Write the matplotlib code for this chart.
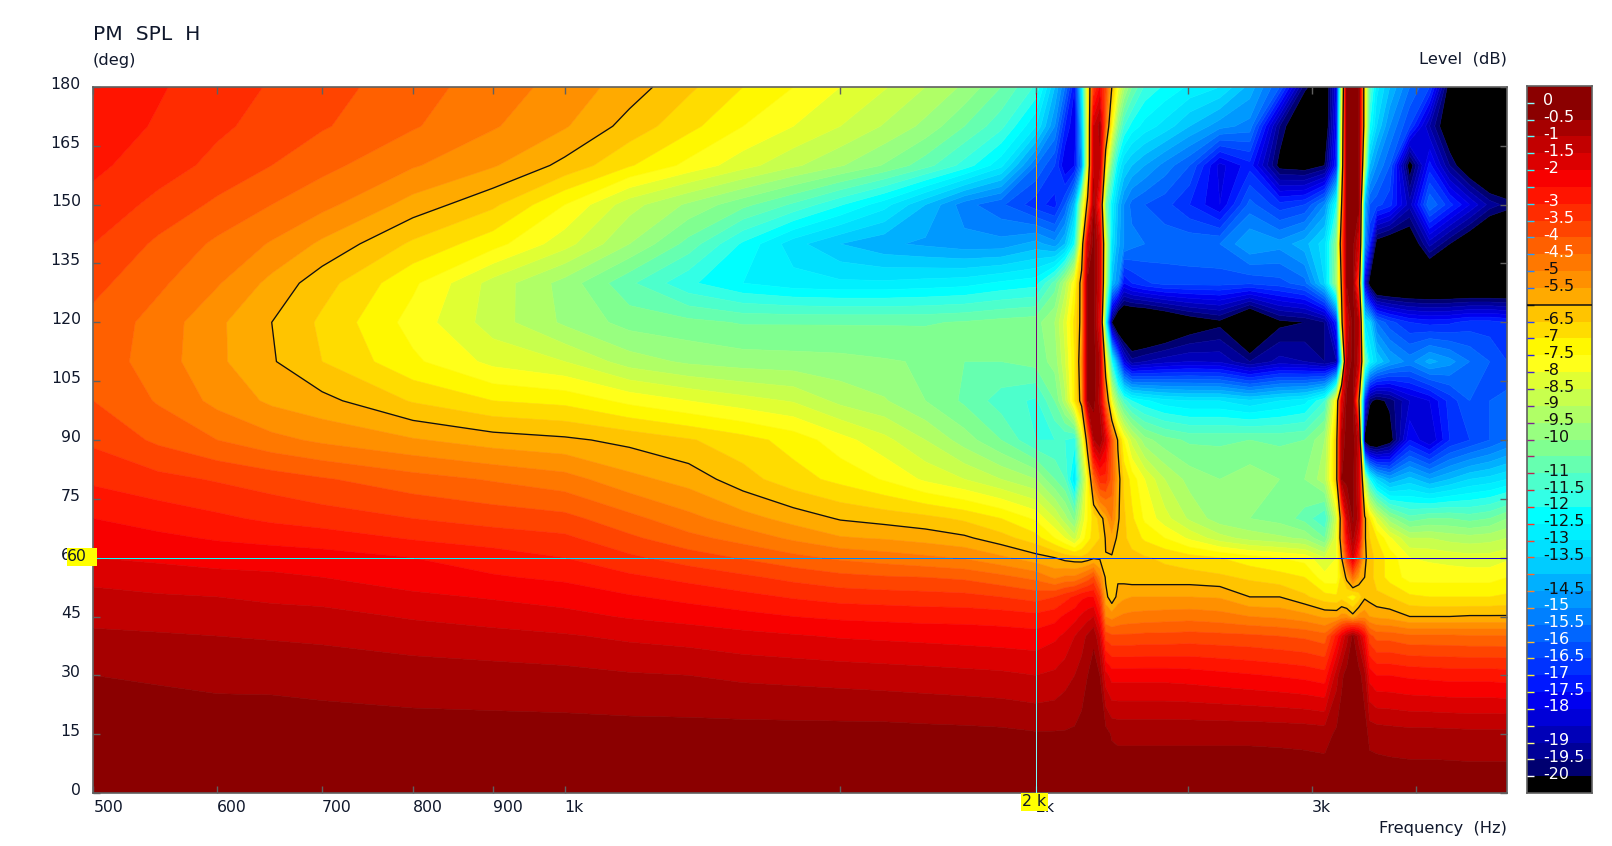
import numpy as np
import matplotlib
matplotlib.use("Agg")
import matplotlib.pyplot as plt
from matplotlib.collections import LineCollection
from matplotlib.colors import to_rgb
from matplotlib.patches import Rectangle
from matplotlib.ticker import NullLocator
from matplotlib.transforms import ScaledTranslation

FREQ_HZ = [500, 550, 600, 650, 700, 800, 900, 1000, 1100, 1200, 1300, 1400, 1500, 1600, 1700, 1800, 1900, 2000,
           2056, 2087, 2117, 2139, 2158, 2177, 2197, 2216, 2236, 2256, 2276, 2303, 2347, 2417, 2507, 2621, 2739, 2862,
           2969, 3058, 3112, 3135, 3159, 3187, 3215, 3243, 3267, 3301, 3365, 3465, 3568, 3675, 3785, 3898, 4000]
ANGLE_DEG = [0, 15, 30, 40, 45, 50, 55, 60, 65, 70, 80, 90, 100, 110, 120, 130, 140, 150, 160, 170, 180]

A000 = [-.1] * 53
A015 = [-.25, -.25, -.28, -.3, -.3, -.3, -.3, -.3, -.3, -.3, -.3, -.3, -.3, -.3, -.33, -.35, -.38, -.45,
        -.45, -.45, -.42, -.3, -.25, -.2, -.2, -.3, -.55, -.6, -.6, -.6, -.6, -.6, -.6, -.6, -.6, -.62, -.65, -.7, -.4, -.25, -.2, -.2, -.2, -.25, -.65, -.7, -.75, -.8, -.8, -.82, -.85, -.85, -.85]
A030 = [-.5, -.55, -.6, -.6, -.65, -.75, -.8, -.85, -.95, -1, -1.1, -1.15, -1.2, -1.25, -1.3, -1.35, -1.4, -1.5,
        -1.4, -1.2, -1, -.8, -.5, -.3, -.5, -1.8, -2.2, -2.2, -2.2, -2.2, -2.2, -2.2, -2.25, -2.35, -2.45, -2.55, -2.65, -2.8, -1.2, -.6, -.3, -.2, -.3, -.8, -2.2, -2.5, -2.5, -2.6, -2.65, -2.7, -2.7, -2.7, -2.75]
A040 = [-.9, -.95, -1, -1.05, -1.1, -1.25, -1.35, -1.45, -1.6, -1.7, -1.85, -1.95, -2.05, -2.1, -2.15, -2.2, -2.25, -2.3,
        -2.1, -1.9, -1.5, -1.2, -.9, -.6, -1.5, -3.7, -3.9, -3.9, -3.9, -3.9, -3.85, -3.85, -3.8, -3.85, -3.9, -4, -4.1, -4.3, -2.8, -2, -1.2, -.4, -1.2, -2.4, -3.8, -4.2, -4.2, -4.4, -4.4, -4.4, -4.45, -4.45, -4.45]
A045 = [-1.15, -1.2, -1.25, -1.3, -1.35, -1.55, -1.7, -1.85, -2.05, -2.2, -2.35, -2.5, -2.6, -2.65, -2.7, -2.7, -2.75, -2.85,
        -2.7, -2.4, -2.2, -1.9, -1.7, -1.5, -2.5, -5, -5.2, -5, -4.9, -4.85, -4.8, -4.75, -4.7, -4.8, -5, -5.1, -5.3, -5.6, -5.6, -5.3, -5.3, -5.8, -5.3, -5.2, -5.5, -5.6, -5.7, -6, -6, -6, -5.95, -5.95, -5.95]
A050 = [-1.35, -1.45, -1.5, -1.6, -1.65, -1.9, -2.05, -2.2, -2.45, -2.65, -2.85, -3.05, -3.2, -3.25, -3.3, -3.35, -3.5, -3.7,
        -3.5, -3.2, -2.9, -2.6, -2.5, -2.5, -3.5, -5.8, -6.4, -5.8, -5.6, -5.5, -5.5, -5.5, -5.5, -5.55, -6, -6, -6.4, -6.8, -6.9, -6.7, -7, -7.3, -6.8, -6.1, -6.2, -6.4, -6.5, -6.9, -7, -7, -7, -7, -6.9]
A055 = [-1.65, -1.75, -1.85, -1.9, -2, -2.25, -2.45, -2.6, -2.9, -3.15, -3.4, -3.65, -3.85, -3.95, -4, -4.1, -4.35, -4.65,
        -5.1, -4.9, -4.9, -4.6, -4.3, -3.9, -5, -6.1, -6.1, -6.1, -6.2, -6.3, -6.3, -6.3, -6.3, -6.4, -6.6, -6.8, -7, -7.8, -7.8, -6.7, -5.8, -4.5, -5.5, -6, -6.3, -6.7, -7.2, -7.7, -7.7, -7.7, -7.7, -7.7, -7.5]
A060 = [-2, -2.1, -2.2, -2.25, -2.3, -2.5, -2.75, -3, -3.4, -3.75, -4.05, -4.35, -4.6, -4.75, -4.9, -5.05, -5.4, -5.8,
        -6, -6.2, -6.3, -6.4, -6.3, -6.1, -6.1, -6.02, -6.05, -6.2, -6.3, -6.35, -6.45, -6.6, -6.8, -7, -7.3, -7.5, -7.7, -8.5, -8, -6, -3.5, -1.6, -3.5, -5.9, -6.2, -6.7, -7.2, -8, -8.1, -8.2, -8.3, -8.3, -8.1]
A065 = [-2.25, -2.4, -2.55, -2.65, -2.75, -3.05, -3.25, -3.4, -3.9, -4.35, -4.7, -5.1, -5.45, -5.55, -5.7, -5.9, -6.3, -6.8,
        -7.5, -8, -8.7, -7.8, -7.2, -6.8, -6.5, -5.95, -5.7, -6.1, -6.4, -6.7, -7.1, -7.5, -8.1, -8.8, -9.2, -9.4, -9.6, -10.5, -8, -5, -2.2, -.8, -2, -5.9, -6.5, -7, -7.9, -9, -9, -9.2, -9.3, -9.2, -9]
A070 = [-2.5, -2.7, -2.9, -3.1, -3.25, -3.5, -3.7, -3.85, -4.35, -4.85, -5.3, -5.7, -6.05, -6.2, -6.35, -6.6, -7, -7.6,
        -8.5, -9.3, -10.2, -8.5, -7.5, -6.8, -6.3, -5.7, -4.9, -5.9, -6.4, -6.9, -7.6, -8.3, -9.1, -9.8, -10, -10.2, -10.7, -11.5, -8.5, -5, -1.5, -.4, -1.2, -5.8, -7, -8.3, -9.8, -10.8, -10.5, -10.5, -10.7, -10.5, -10]
A080 = [-3.1, -3.35, -3.55, -3.75, -3.95, -4.3, -4.55, -4.8, -5.35, -5.7, -6.3, -6.8, -7.15, -7.55, -8.1, -8.5, -9, -9.5,
        -10.5, -11, -13, -10, -7.5, -4.5, -3.2, -3.2, -4.2, -5.7, -6.6, -7.2, -8, -9, -9.7, -10, -9.7, -10, -10, -9.2, -6.2, -.5, -.3, -.3, -1.5, -9, -12, -13.5, -14.5, -13.8, -14.5, -14, -13.5, -13.3, -13]
A090 = [-3.6, -4.1, -4.5, -4.85, -5.1, -5.45, -5.75, -5.9, -6.15, -6.45, -6.8, -7.2, -7.8, -8.35, -9, -9.75, -10.5, -11.5,
        -11.5, -11.5, -11.8, -8.5, -5.2, -1, -.5, -1.7, -4, -6.1, -7.5, -8.7, -9.8, -10.3, -10.6, -10.6, -10.5, -10.6, -10.5, -9.5, -6.3, -.8, -.3, -.3, -1.2, -20.5, -21.5, -21.5, -20.5, -17.5, -18.5, -17, -16.5, -16, -15.5]
A100 = [-4, -4.55, -5.15, -5.6, -5.85, -6.55, -7, -7.15, -7.65, -8, -8.3, -8.55, -9.15, -9.45, -10, -10.6, -11.25, -11.6,
        -10.5, -9.2, -7, -5.6, -.5, -.3, -1.2, -4.5, -8, -10, -11.2, -12, -12.4, -12.8, -13, -13, -13.4, -13, -12.7, -11.5, -7.2, -2, -.3, -.3, -5.5, -17, -19.8, -20.3, -19.8, -18.5, -18, -16.8, -16, -16, -15.8]
A110 = [-4.2, -4.75, -5.4, -5.95, -6.5, -7.4, -8.15, -8.5, -9.25, -9.6, -9.75, -9.8, -9.85, -9.95, -10.05, -10.5, -10.5, -10.3,
        -9.8, -8.6, -7, -5.3, -.4, -.3, -1, -7, -12, -15, -18, -19.3, -19, -18.7, -18.5, -18.6, -19.5, -18.8, -19, -19.5, -19, -12, -1, -.3, -1.2, -10.5, -12.5, -13.5, -14.5, -15.2, -14.3, -14.8, -15.5, -16, -16.5]
A120 = [-4.15, -4.7, -5.4, -6, -6.6, -7.7, -8.75, -9.6, -10.2, -10.35, -10.55, -10.55, -10.55, -10.55, -10.55, -10.45, -10.3, -10.2,
        -9.5, -8.3, -6.8, -5.7, -.3, -.3, -2, -12, -20, -22, -22, -22, -22, -21.5, -20.7, -20.2, -22, -20.2, -20, -19.5, -17, -6.5, -1.5, -.3, -1, -13, -13.5, -15.5, -16.3, -17, -17.2, -17.1, -16.8, -16.8, -17]
A130 = [-3.85, -4.4, -4.95, -5.65, -6.3, -7.4, -8.7, -9.7, -10.9, -11.9, -12.5, -12.8, -12.9, -12.9, -12.8, -12.7, -12.4, -12.2,
        -10.8, -9.3, -7.5, -5.5, -.3, -.3, -1.5, -9, -14, -15, -17.5, -17, -16.6, -16.3, -16.3, -16.3, -16.4, -16.2, -15.7, -13.5, -9.5, -5.7, -.4, -.3, -4, -18, -20.5, -22, -22, -22, -22, -22, -22, -22, -22]
A140 = [-3.5, -4.1, -4.6, -5.05, -5.6, -6.6, -7.3, -8.3, -9.5, -10.7, -12.1, -13.3, -14, -14.4, -14.6, -14.8, -14.8, -14.3,
        -14.8, -14, -12, -7, -1.5, -.3, -1.5, -8.5, -13, -14.3, -15, -15.3, -15.5, -15.7, -15.6, -15.5, -14.5, -14.8, -14.2, -13.2, -10, -4.5, -.5, -.3, -1.5, -15, -17, -20.5, -21, -21, -18.8, -20, -21, -22, -22]
A150 = [-3.15, -3.65, -4.1, -4.5, -4.85, -5.7, -6.4, -7.5, -8.8, -9.6, -10.35, -11.1, -11.95, -12.8, -14, -15.3, -15.9, -16.8,
        -17.2, -16, -14, -9, -5.5, -.6, -3, -10.5, -12.5, -14, -15, -15.7, -16, -16.3, -17, -18, -15.8, -16.8, -16.5, -15, -12, -6, -.4, -.3, -.3, -14, -16, -16.3, -16.8, -18.8, -15.5, -16.8, -18, -19.2, -19.7]
A160 = [-2.9, -3.25, -3.65, -4, -4.35, -4.95, -5.45, -6.15, -6.95, -7.65, -8.3, -8.9, -9.45, -10.05, -10.8, -11.7, -12.85, -15.5,
        -16.5, -18, -17.5, -15, -8, -1.2, -1.2, -7, -10.5, -12.5, -13.5, -14, -14.5, -15.2, -16, -18.2, -17.2, -20.3, -20.5, -20, -17, -7.5, -.4, -.3, -.3, -9, -14, -15, -16, -20.5, -17.3, -19.5, -21, -22, -22]
A170 = [-2.75, -3.05, -3.4, -3.7, -3.95, -4.45, -4.95, -5.45, -6.2, -6.85, -7.5, -8, -8.5, -9.05, -9.65, -10.5, -11.35, -13,
        -15, -17, -18, -14, -8, -1.5, -.8, -4.5, -7.5, -10, -11.5, -12.2, -12.7, -13.2, -14, -14.8, -15.2, -19.5, -21.5, -21, -17.5, -8, -.4, -.3, -.3, -7, -12, -13.5, -15, -16.5, -19, -21, -22, -22, -22]
A180 = [-2.6, -2.95, -3.25, -3.55, -3.8, -4.3, -4.75, -5.2, -5.75, -6.4, -7, -7.5, -8, -8.45, -9, -9.6, -10.5, -11.6,
        -14, -15.5, -17.5, -13, -7.5, -3.5, -2.4, -3.8, -6, -7.8, -9.3, -10.5, -11.6, -12.1, -12.6, -13, -14.2, -16, -19.8, -21, -18, -9, -.4, -.3, -.3, -7, -11, -12.8, -14, -15.5, -16.5, -20.5, -22, -22, -22]

LEVEL_ROWS = [A000, A015, A030, A040, A045, A050, A055, A060, A065, A070, A080, A090, A100, A110, A120, A130, A140, A150, A160, A170, A180]

# bands top to bottom: above 0, 0..-0.5, ... , -19.5..-20, below -20
BAND_COLORS = ["#8b0000", "#8b0000", "#a60000", "#c20000", "#dc0000", "#f80000", "#ff1400", "#ff2c00", "#ff4400", "#ff6000",
               "#ff7800", "#ff9000", "#ffaa00", "#ffc400", "#ffdc00", "#fff800", "#ffff1a", "#e0ff33", "#c8ff4d", "#b0ff66",
               "#98ff80", "#80ff90", "#66ffb0", "#4dffcc", "#33ffe6", "#00ffff", "#00f0ff", "#00e0ff", "#00ccff", "#00b0ff",
               "#0099ff", "#0080ff", "#0066ff", "#004dff", "#0033ff", "#0018ff", "#0000f0", "#0000d8", "#0000b8", "#000098",
               "#000070", "#000000"]
LEVEL_MARKS = [-0.5 * i for i in range(41)]
HIDDEN_MARKS = [-2.5, -6.0, -10.5, -14.0, -18.5]
X_TICKS = [500, 600, 700, 800, 900, 1000, 1500, 2000, 2500, 3000, 3500]
X_LABELS = ["500", "600", "700", "800", "900", "1k", "", "2k", "", "3k", ""]
Y_TICKS = [0, 15, 30, 45, 60, 75, 90, 105, 120, 135, 150, 165, 180]
CURSOR_F = 2000
CURSOR_A = 60

W, H = 1612, 846
TXT = "#10182c"
GRAY = "#606060"
plt.rcParams["font.family"] = "DejaVu Sans"
fig = plt.figure(figsize=(W / 100, H / 100), dpi=100, facecolor="white")


def box(x0, y0, x1, y1):
    return [x0 / W, 1 - y1 / H, (x1 - x0) / W, (y1 - y0) / H]


ax = fig.add_axes(box(93.3, 87, 1507.3, 793))
freq = np.array(FREQ_HZ, float)
ang = np.array(ANGLE_DEG, float)
Z = np.array(LEVEL_ROWS, float)

marks_up = sorted(LEVEL_MARKS)
levels = [-100.0] + marks_up + [5.0]
colors_up = BAND_COLORS[::-1]
cf = ax.contourf(freq, ang, Z, levels=levels, colors=colors_up, antialiased=True)
cf.set_edgecolor("face")
cf.set_linewidth(0.4)
ax.contour(freq, ang, Z, levels=[-6.0], colors="#101010", linewidths=0.95, linestyles="solid")
ax.set_xscale("log")
ax.set_xlim(500, 4000)
ax.set_ylim(0, 180)
ax.minorticks_off()
ax.set_xticks(X_TICKS, labels=X_LABELS)
ax.xaxis.set_minor_locator(NullLocator())
ax.set_yticks(Y_TICKS, labels=[str(v) for v in Y_TICKS])
ax.tick_params(axis="both", which="major", direction="in", length=5, width=1, color=GRAY,
               top=True, right=True, labelsize=11.3, labelcolor=TXT)
ax.tick_params(axis="x", pad=5)
ax.tick_params(axis="y", pad=9)
for s in ax.spines.values():
    s.set_color(GRAY)
    s.set_linewidth(1.2)
for lab in ax.get_xticklabels():
    lab.set_ha("left")
for lab in ax.get_yticklabels():
    lab.set_transform(lab.get_transform() + ScaledTranslation(0, 3 / 72, fig.dpi_scale_trans))


def inv_color(value):
    idx = np.searchsorted(marks_up, value)
    r, g, b = to_rgb(colors_up[int(idx)])
    return (1 - r, 1 - g, 1 - b)


# crosshair: each line takes the inverse of the band beneath it
iF = FREQ_HZ.index(CURSOR_F)
iA = ANGLE_DEG.index(CURSOR_A)
a_s = np.linspace(0, 178.5, 500)
v_vals = np.interp(a_s, ang, Z[:, iF])
segs = [[(CURSOR_F, a_s[i]), (CURSOR_F, a_s[i + 1])] for i in range(len(a_s) - 1)]
ax.add_collection(LineCollection(segs, colors=[inv_color(v) for v in v_vals[:-1]], linewidths=0.72, zorder=5,
                                 antialiaseds=False))
f_s = np.geomspace(500, 3990, 900)
h_vals = np.interp(np.log(f_s), np.log(freq), Z[iA, :])
segs = [[(f_s[i], CURSOR_A), (f_s[i + 1], CURSOR_A)] for i in range(len(f_s) - 1)]
ax.add_collection(LineCollection(segs, colors=[inv_color(v) for v in h_vals[:-1]], linewidths=0.72, zorder=5,
                                 antialiaseds=False))

# colour scale
cb = fig.add_axes(box(1527.3, 86, 1591.7, 793))
edges = [0.5] + [-0.5 * i for i in range(41)] + [-20.5]
for i, c in enumerate(BAND_COLORS):
    cb.barh(edges[i + 1], 1, height=edges[i] - edges[i + 1], left=0, align="edge", color=c, linewidth=0)
cb.set_xlim(0, 1)
cb.set_ylim(-20.5, 0.5)
cb.set_xticks([])
cb.set_yticks([])
for s in cb.spines.values():
    s.set_color(GRAY)
    s.set_linewidth(1.2)
for m in LEVEL_MARKS:
    idx = LEVEL_MARKS.index(m) + 1
    r, g, b = to_rgb(BAND_COLORS[idx])
    tick_c = "#101010" if m == -6.0 else (1 - r * .85, 1 - g * .85, 1 - b * .85)
    cb.plot([0, 0.105], [m, m], color=tick_c, lw=1.0, solid_capstyle="butt", zorder=3)
    if m == -6.0:
        cb.plot([0, 1], [m, m], color="#101010", lw=1.1, zorder=3)
    if m not in HIDDEN_MARKS:
        dark = -14.5 <= m <= -5
        lab = "%g" % m if m != 0 else "0"
        cb.annotate(lab, xy=(0, m), xytext=(16, 2), textcoords="offset pixels", ha="left", va="center",
                    fontsize=11.5, color="#101010" if dark else "white", zorder=4)

# titles
fig.text(93 / W, 1 - 34 / H, "PM  SPL  H", fontsize=14.6, color=TXT, ha="left", va="center")
fig.text(93 / W, 1 - 60 / H, "(deg)", fontsize=11.8, color=TXT, ha="left", va="center")
fig.text(1507 / W, 1 - 59 / H, "Level  (dB)", fontsize=11.8, color=TXT, ha="right", va="center")
fig.text(1507 / W, 1 - 828 / H, "Frequency  (Hz)", fontsize=11.7, color=TXT, ha="right", va="center")

# cursor read-outs
for (x0, y0, x1, y1, t, cx) in [(67.3, 548, 96.7, 565.7, "60", 77), (1021, 793, 1047.7, 810.7, "2 k", 1034)]:
    fig.add_artist(Rectangle((x0 / W, 1 - y1 / H), (x1 - x0) / W, (y1 - y0) / H, transform=fig.transFigure,
                             facecolor="#ffff00", edgecolor="none", zorder=5))
    fig.text(cx / W, 1 - (y0 + y1) / 2 / H, t, fontsize=11.3, color=TXT, ha="center", va="center", zorder=6)

fig.savefig("out.png", dpi=100, facecolor="white")
